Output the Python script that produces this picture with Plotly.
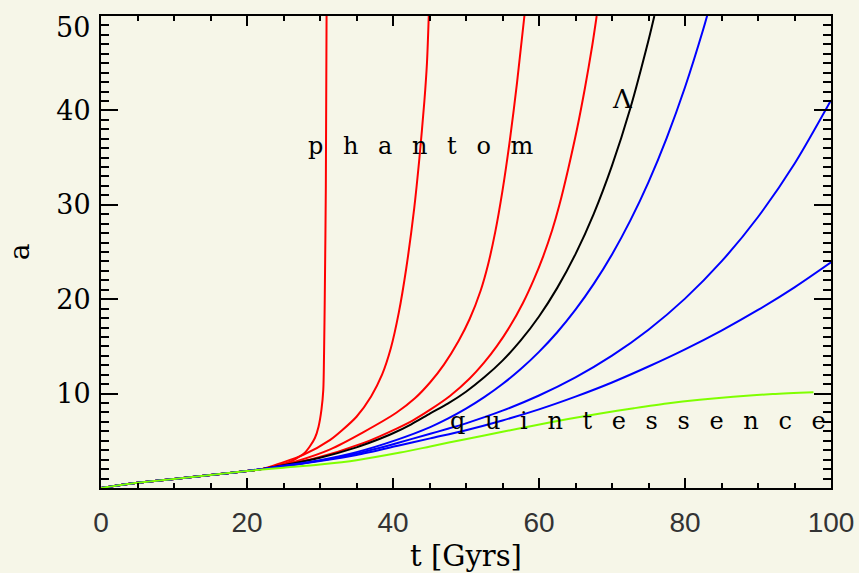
import plotly.graph_objects as go

# ---- data (t in Gyr, a = scale factor) ----
r1_t = [0, 2, 5, 10, 15, 20, 22, 23.2, 24.5, 25.8, 26.8, 27.8, 28.6, 29.3, 29.8, 30.2, 30.45, 30.55, 30.65, 30.8, 30.9]
r1_a = [0, 0.25, 0.55, 0.95, 1.38, 1.8, 2.0, 2.18, 2.45, 2.75, 3.15, 3.65, 4.4, 5.3, 6.5, 8.3, 10.4, 14.0, 19.9, 32, 50]

r2_t = [0, 2, 5, 10, 15, 20, 22, 24.5, 27.7, 31.4, 33.0, 35.0, 37.0, 38.5, 39.7, 40.8, 41.8, 42.9, 43.6, 44.3, 44.65, 44.9]
r2_a = [0, 0.25, 0.55, 0.95, 1.38, 1.8, 2.0, 2.6, 3.5, 5.1, 6.1, 7.55, 9.7, 12.0, 14.8, 18.6, 23.2, 29.6, 34.8, 41.0, 45.0, 50]

r3_t = [0, 2, 5, 10, 15, 20, 22, 24, 26.8, 31.4, 35.9, 40.5, 43.0, 45.1, 47.0, 49.0, 50.5, 52.0, 53.0, 54.0, 55.0, 56.0, 57.0, 58.0]
r3_a = [0, 0.25, 0.55, 0.95, 1.38, 1.8, 2.0, 2.3, 2.85, 4.1, 5.9, 8.0, 9.5, 11.2, 13.1, 15.6, 17.9, 20.9, 23.6, 27.1, 31.5, 36.8, 43.0, 50.0]

r4_t = [0, 2, 5, 10, 15, 20, 22, 25, 29.1, 35.9, 40.5, 42.8, 45.1, 47.8, 50.5, 52.5, 54.2, 56.0, 57.8, 59.3, 60.6, 61.8, 62.8, 64.0, 65.2, 66.3, 67.3, 67.9]
r4_a = [0, 0.25, 0.55, 0.95, 1.38, 1.8, 2.0, 2.45, 3.1, 4.75, 6.3, 7.2, 8.3, 9.75, 11.6, 13.3, 15.0, 17.1, 19.6, 22.1, 24.6, 27.3, 30.0, 33.8, 38.0, 42.4, 46.9, 50]

lam_t = [0, 2, 5, 10, 15, 20, 22, 25, 30, 35, 37.5, 40, 42.5, 45.1, 47.5, 50, 52.5, 55, 57.5, 60, 62.5, 65, 67.5, 70, 72.5, 75, 75.8]
lam_a = [0, 0.25, 0.55, 0.95, 1.38, 1.8, 2.0, 2.4, 3.2, 4.3, 5.0, 5.8, 6.75, 7.9, 8.93, 10.2, 11.72, 13.49, 15.63, 18.17, 21.2, 24.78, 29.05, 34.15, 40.2, 47.43, 50.0]

b1_t = [0, 2, 5, 10, 15, 20, 22, 25, 30, 35, 40.5, 45.1, 47.5, 50, 52.5, 55, 57.5, 60, 62.5, 65, 67.5, 70, 72.5, 75, 77.5, 80, 82.5, 83.2]
b1_a = [0, 0.25, 0.55, 0.95, 1.38, 1.8, 2.0, 2.35, 2.95, 3.8, 5.1, 6.45, 7.34, 8.40, 9.62, 11.01, 12.60, 14.42, 16.50, 18.89, 21.62, 24.74, 28.32, 32.41, 37.10, 42.45, 48.59, 50.5]

b2_t = [0, 2, 5, 10, 15, 20, 22, 25, 30, 35, 40.5, 45.1, 47.5, 50, 55, 60, 65, 70, 75, 80, 85, 90, 95, 100]
b2_a = [0, 0.25, 0.55, 0.95, 1.38, 1.8, 2.0, 2.3, 2.9, 3.65, 4.75, 5.75, 6.27, 6.85, 8.19, 9.80, 11.72, 14.02, 16.77, 20.06, 24.00, 28.71, 34.34, 41.07]

b3_t = [0, 2, 5, 10, 15, 20, 22, 25, 30, 35, 40.5, 45.1, 50, 55, 60, 65, 70, 75, 80, 85, 90, 95, 100]
b3_a = [0, 0.25, 0.55, 0.95, 1.38, 1.8, 2.0, 2.3, 2.85, 3.5, 4.45, 5.26, 6.12, 7.15, 8.33, 9.68, 11.18, 12.87, 14.69, 16.68, 18.86, 21.26, 23.91]

q_t = [0, 2, 5, 10, 15, 20, 25, 30, 35, 41, 45.1, 50.1, 55, 59.2, 64, 68.4, 73, 77.5, 82, 86.6, 92, 97.6]
q_a = [0, 0.25, 0.55, 0.95, 1.38, 1.8, 2.15, 2.5, 2.95, 3.75, 4.4, 5.2, 5.95, 6.6, 7.3, 7.9, 8.45, 8.95, 9.35, 9.67, 9.95, 10.14]

x_ticks = [0, 20, 40, 60, 80, 100]
y_ticks = [10, 20, 30, 40, 50]
y_ticktext = ["10", "20", "30", "40", ""]  # "50" is drawn as a note, a little lower, as in the original

BG = "#f6f6e8"
series = [
    (r1_t, r1_a, "#ff0000"), (r2_t, r2_a, "#ff0000"), (r3_t, r3_a, "#ff0000"), (r4_t, r4_a, "#ff0000"),
    (lam_t, lam_a, "#000000"),
    (b1_t, b1_a, "#0000ff"), (b2_t, b2_a, "#0000ff"), (b3_t, b3_a, "#0000ff"),
    (q_t, q_a, "#7fff00"),
]

fig = go.Figure()
for t, a, c in series:
    fig.add_trace(go.Scatter(x=t, y=a, mode="lines", line=dict(color=c, width=2, shape="spline", smoothing=0.8),
                             hoverinfo="skip", showlegend=False))

serif = "DejaVu Serif"
fig.update_layout(
    width=859, height=573,
    margin=dict(l=101, r=28, t=16, b=85, autoexpand=False),
    paper_bgcolor=BG, plot_bgcolor=BG,
    showlegend=False,
    xaxis=dict(
        range=[0, 100], tickmode="array", tickvals=x_ticks, automargin=False,
        ticks="inside", ticklen=10, tickwidth=1.5, tickcolor="black",
        showline=True, linecolor="black", linewidth=2, mirror="allticks",
        showgrid=False, zeroline=False,
        minor=dict(tick0=0, dtick=5, ticks="inside", ticklen=5, tickwidth=1.5, tickcolor="black", showgrid=False),
        tickfont=dict(family="Liberation Sans", size=28, color="#333333"),
        ticklabelstandoff=8,
        title=dict(text="t [Gyrs]", font=dict(family=serif, size=29, color="black"), standoff=11),
    ),
    yaxis=dict(
        range=[0, 50], tickmode="array", tickvals=y_ticks, ticktext=y_ticktext, automargin=False,
        ticks="inside", ticklen=17, tickwidth=1.5, tickcolor="black",
        showline=True, linecolor="black", linewidth=2, mirror="allticks",
        showgrid=False, zeroline=False,
        minor=dict(tick0=0, dtick=1, ticks="inside", ticklen=8, tickwidth=1.5, tickcolor="black", showgrid=False),
        tickfont=dict(family=serif, size=27, color="black"),
        ticklabelstandoff=3,
        title=dict(text="a", font=dict(family=serif, size=28, color="black"), standoff=18),
    ),
    annotations=[
        dict(x=0, y=50, xref="paper", yref="y", text="50", showarrow=False, xanchor="right", yanchor="middle",
             xshift=-9, yshift=-11, font=dict(family=serif, size=27, color="black")),
        dict(x=43.7, y=36.2, xref="x", yref="y", text="p\u2002 h\u2002 a\u2002 n\u2002 t\u2002 o\u2002 m",
             showarrow=False, font=dict(family=serif, size=24, color="black"), xanchor="center", yanchor="middle"),
        dict(x=71.5, y=41.2, xref="x", yref="y", text="\u039b", showarrow=False,
             font=dict(family=serif, size=26, color="black"), xanchor="center", yanchor="middle"),
        dict(x=73.5, y=7.1, xref="x", yref="y",
             text="q\u2002 u\u2002 i\u2002 n\u2002 t\u2002 e\u2002 s\u2002 s\u2002 e\u2002 n\u2002 c\u2002 e",
             showarrow=False, font=dict(family=serif, size=24, color="black"), xanchor="center", yanchor="middle"),
    ],
)

fig.write_html("out.html")
